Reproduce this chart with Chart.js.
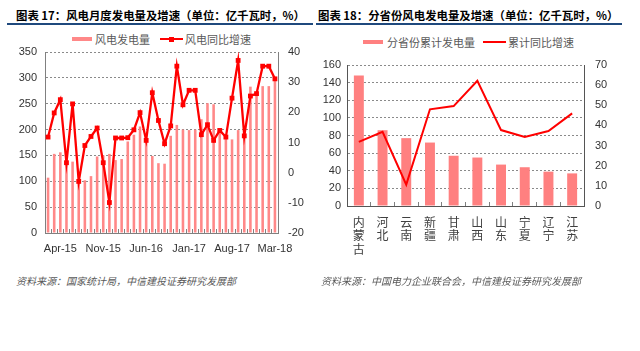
<!DOCTYPE html>
<html><head><meta charset="utf-8">
<script src="https://cdn.jsdelivr.net/npm/chart.js@4.4.0/dist/chart.umd.min.js"></script>
<style>
body{margin:0;background:#fff;}
#wrap{position:relative;width:640px;height:351px;overflow:hidden;background:#fff;font-family:'Noto Sans CJK SC','Liberation Sans',sans-serif;}
.title{position:absolute;font-size:11.4px;font-weight:700;color:#000;white-space:nowrap;line-height:14px;}
.rule{position:absolute;height:2px;background:#1F497D;}
.lg{position:absolute;font-size:11px;color:#595959;white-space:nowrap;line-height:14px;}
.sw{position:absolute;}
.src{position:absolute;font-size:10px;font-style:italic;color:#595959;white-space:nowrap;line-height:12px;}
canvas{position:absolute;}
</style></head>
<body>
<div id="wrap">
  <div class="title" style="left:16px;top:8px;">图表 17：风电月度发电量及增速（单位：亿千瓦时，%）</div>
  <div class="title" style="left:318px;top:8px;">图表 18：分省份风电发电量及增速（单位：亿千瓦时，%）</div>
  <div class="rule" style="left:7px;top:23px;width:306px;"></div>
  <div class="rule" style="left:316px;top:23px;width:306px;"></div>
  <div id="legend1"></div>
  <div id="legend2"></div>
  <canvas id="c1" width="320" height="240" style="left:0px;top:28px;"></canvas>
  <canvas id="c2" width="328" height="240" style="left:312px;top:28px;"></canvas>
  <div class="src" style="left:16px;top:275px;">资料来源：国家统计局，中信建投证券研究发展部</div>
  <div class="src" style="left:321px;top:275px;">资料来源：中国电力企业联合会，中信建投证券研究发展部</div>
</div>
<script>
// ---- Chart 17 data ----
const months = ['Feb-15','Mar-15','Apr-15','May-15','Jun-15','Jul-15','Aug-15','Sep-15','Oct-15','Nov-15','Dec-15',
  'Jan-16','Feb-16','Mar-16','Apr-16','May-16','Jun-16','Jul-16','Aug-16','Sep-16','Oct-16','Nov-16','Dec-16',
  'Jan-17','Feb-17','Mar-17','Apr-17','May-17','Jun-17','Jul-17','Aug-17','Sep-17','Oct-17','Nov-17','Dec-17',
  'Jan-18','Feb-18','Mar-18'];
const shownMonthTicks = ['Apr-15','Nov-15','Jun-16','Jan-17','Aug-17','Mar-18'];
const windGen = [107,153,156,137,138,97,102,110,148,150,153,141,143,177,190,206,177,149,135,134,
  188,209,200,199,200,220,251,249,198,183,181,199,205,283,270,284,284,298];
const windYoY = [11.8,19.8,24.2,3.3,22.8,-2.9,9.0,12.0,14.8,3.3,-9.9,11.5,11.5,11.6,14.2,19.9,10.7,26.5,17.3,9.6,
  15.5,35.3,22.5,27.3,27.3,12.6,15.9,10.7,14.0,11.8,24.7,37.2,12.2,25.4,26.2,35.3,35.3,31.1];
const leftTicks1 = {min:0, max:350, step:50};
const rightTicks1 = {min:-20, max:40, step:10};

// ---- Chart 18 data ----
const provinces = ['内蒙古','河北','云南','新疆','甘肃','山西','山东','宁夏','辽宁','江苏'];
const provGen = [148,86,77,72,57,55,47,44,39,37];
const provYoY = [31.8,36.8,10.6,48,49.6,62.2,37.7,34.3,37.2,46];
const leftTicks2 = {min:0, max:160, step:20};
const rightTicks2 = {min:0, max:70, step:10};

const BAR1 = '#FF8888', BAR2 = '#FF8080', RED = '#FF0000';
const AXIS = '#808080', GRID = '#8a8a8a', TXT = '#333333';
const numFont = {family:'Liberation Sans', size:11};

function legend(containerId, items){
  const c = document.getElementById(containerId);
  items.forEach(it=>{
    if(it.kind==='bar'){
      const s=document.createElement('div'); s.className='sw';
      s.style.cssText=`left:${it.sx}px;top:${it.y-2}px;width:20px;height:4px;background:${it.color};`;
      c.appendChild(s);
    } else {
      const s=document.createElement('div'); s.className='sw';
      s.style.cssText=`left:${it.sx}px;top:${it.y-1}px;width:23px;height:2px;background:${it.color};`;
      c.appendChild(s);
      if(it.marker){
        const m=document.createElement('div'); m.className='sw';
        m.style.cssText=`left:${it.sx+9}px;top:${it.y-2.5}px;width:5px;height:5px;background:${it.color};`;
        c.appendChild(m);
      }
    }
    const t=document.createElement('div'); t.className='lg';
    t.style.cssText=`left:${it.tx}px;top:${it.y-7}px;`;
    t.textContent=it.label; c.appendChild(t);
  });
}

const c1 = new Chart(document.getElementById('c1'), {
  data:{labels:months, datasets:[
    {type:'bar', label:'风电发电量', data:windGen, backgroundColor:BAR1, yAxisID:'y', order:2,
     categoryPercentage:1, barPercentage:0.42},
    {type:'line', label:'风电同比增速', data:windYoY, borderColor:RED, backgroundColor:RED, borderWidth:2.3,
     pointStyle:'rect', pointRadius:3.4, pointBorderWidth:0, pointBackgroundColor:RED, yAxisID:'y1', order:1, tension:0}
  ]},
  options:{
    responsive:false, animation:false, events:[],
    layout:{padding:{top:24,left:0,right:0,bottom:0}},
    plugins:{legend:{display:false}, tooltip:{enabled:false}},
    scales:{
      x:{offset:true,
        grid:{offset:true, display:true, drawOnChartArea:false, drawTicks:true, tickLength:-4, color:AXIS},
        border:{display:true, color:AXIS},
        ticks:{autoSkip:false, maxRotation:0, minRotation:0, padding:13, font:numFont, color:TXT,
          callback:(v,i)=> shownMonthTicks.includes(months[i]) ? months[i] : ''},
        afterFit:s=>{s.height=35;}},
      y:{position:'left', min:leftTicks1.min, max:leftTicks1.max,
        ticks:{stepSize:leftTicks1.step, padding:8, font:numFont, color:TXT},
        grid:{color:GRID, drawTicks:false}, border:{display:true, color:AXIS, dash:[2,2]},
        afterFit:s=>{s.width=45;}},
      y1:{position:'right', min:rightTicks1.min, max:rightTicks1.max,
        ticks:{stepSize:rightTicks1.step, padding:10, font:numFont, color:TXT},
        grid:{drawOnChartArea:false, drawTicks:false}, border:{display:true, color:AXIS},
        afterFit:s=>{s.width=42;}}
    }
  }
});

const c2 = new Chart(document.getElementById('c2'), {
  data:{labels:provinces.map(p=>p.split('')), datasets:[
    {type:'bar', label:'分省份累计发电量', data:provGen, backgroundColor:BAR2, yAxisID:'y', order:2,
     categoryPercentage:1, barPercentage:0.42},
    {type:'line', label:'累计同比增速', data:provYoY, borderColor:RED, borderWidth:2, pointRadius:0,
     yAxisID:'y1', order:1, tension:0}
  ]},
  options:{
    responsive:false, animation:false, events:[],
    layout:{padding:{top:37,left:0,right:0,bottom:0}},
    plugins:{legend:{display:false}, tooltip:{enabled:false}},
    scales:{
      x:{offset:true,
        grid:{offset:true, display:true, drawOnChartArea:false, drawTicks:true, tickLength:-4, color:AXIS},
        border:{display:true, color:'#555555'},
        ticks:{autoSkip:false, maxRotation:0, minRotation:0, padding:14,
          font:{family:'Noto Sans CJK SC', size:12, lineHeight:1.1}, color:'#404040'},
        afterFit:s=>{s.height=62;}},
      y:{position:'left', min:leftTicks2.min, max:leftTicks2.max,
        ticks:{stepSize:leftTicks2.step, padding:6, font:numFont, color:TXT},
        grid:{color:GRID, drawTicks:false}, border:{display:true, color:'#555555', dash:[2,2]},
        afterFit:s=>{s.width=35;}},
      y1:{position:'right', min:rightTicks2.min, max:rightTicks2.max,
        ticks:{stepSize:rightTicks2.step, padding:11, font:numFont, color:TXT},
        grid:{drawOnChartArea:false, drawTicks:false}, border:{display:true, color:'#555555'},
        afterFit:s=>{s.width=56;}}
    }
  }
});

const d1 = c1.data.datasets, d2 = c2.data.datasets;
legend('legend1', [
  {kind:'bar', label:d1[0].label, color:BAR1, sx:72, tx:95, y:39},
  {kind:'line', label:d1[1].label, color:RED, sx:160, tx:185, y:39, marker:true}
]);
legend('legend2', [
  {kind:'bar', label:d2[0].label, color:BAR2, sx:363, tx:387, y:42},
  {kind:'line', label:d2[1].label, color:RED, sx:483, tx:508, y:42, marker:false}
]);
</script>
</body></html>
